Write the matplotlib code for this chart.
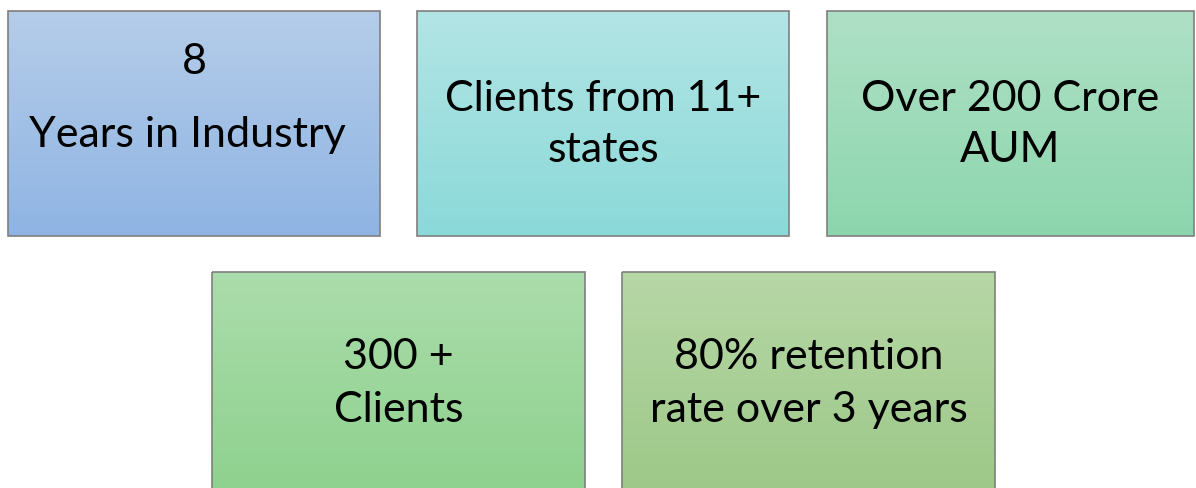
import numpy as np
import matplotlib.pyplot as plt
from matplotlib.patches import Rectangle
from matplotlib.colors import LinearSegmentedColormap, to_rgb

plt.rcParams['font.family'] = ['Lato', 'DejaVu Sans']

# box texts
labels = ["8\nYears in Industry", "Clients from 11+\nstates", "Over 200 Crore\nAUM",
          "300 +\nClients", "80% retention\nrate over 3 years"]
# gradient top / bottom colours
top_colors = ["#b5cde9", "#b3e5e5", "#afe0c6", "#abdcab", "#b7d7a6"]
bottom_colors = ["#8fb4e3", "#8bd9d9", "#8cd6ad", "#8ed18e", "#9cc888"]

# layout in pixels: x0, y0, x1, y1
boxes = [(8, 12, 380, 237), (417, 12, 789, 237), (827, 12, 1194, 237),
         (212, 273, 585, 495), (622, 273, 995, 495)]
text_y = [(62, 135), (99, 150), (99, 150), (357, 410), (357, 410)]

W, H = 1196, 489
fig = plt.figure(figsize=(W / 100, H / 100), dpi=100)
ax = fig.add_axes([0, 0, 1, 1])
ax.set_xlim(0, W)
ax.set_ylim(H, 0)
ax.axis('off')

grad = np.linspace(0, 1, 256).reshape(-1, 1)
for (x0, y0, x1, y1), c0, c1, lab, (ty1, ty2) in zip(boxes, top_colors, bottom_colors, labels, text_y):
    cmap = LinearSegmentedColormap.from_list('g', [to_rgb(c0), to_rgb(c1)])
    ax.imshow(grad, cmap=cmap, aspect='auto', extent=(x0, x1, y1, y0), zorder=1)
    ax.add_patch(Rectangle((x0, y0), x1 - x0, y1 - y0, fill=False,
                           edgecolor='#7f7f7f', lw=1.2, zorder=2))
    l1, l2 = lab.split('\n')
    cx = (x0 + x1) / 2
    cx2 = cx - 7 if l1 == "8" else cx
    ax.text(cx, ty1, l1, ha='center', va='center', fontsize=31, color='#000000', zorder=3)
    ax.text(cx2, ty2, l2, ha='center', va='center', fontsize=31, color='#000000', zorder=3)

ax.set_xlim(0, W)
ax.set_ylim(H, 0)
fig.savefig('out.png', dpi=100)
